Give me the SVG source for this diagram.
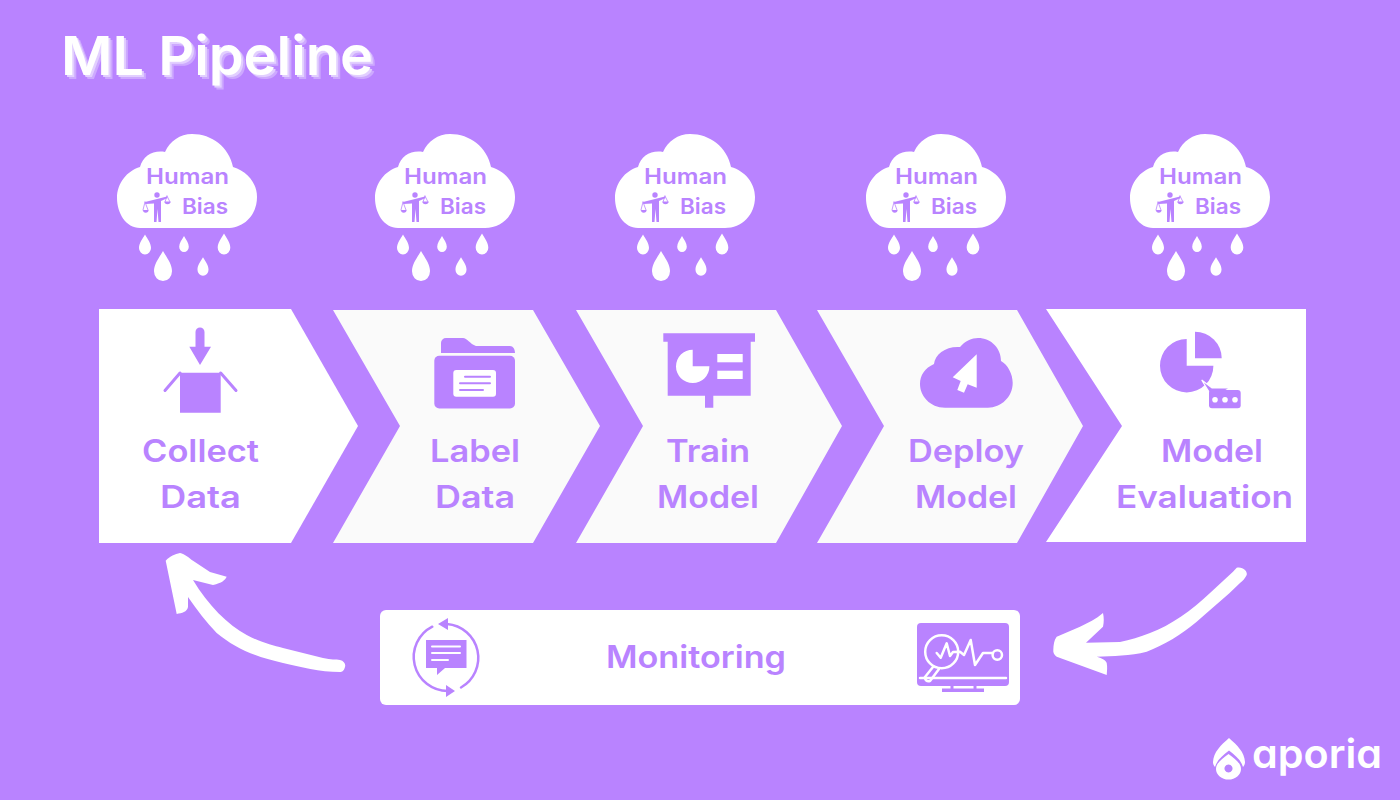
<svg xmlns="http://www.w3.org/2000/svg" width="1400" height="800" viewBox="0 0 1400 800">
<style>
.t{font-family:"Inter","Noto Sans","Liberation Sans",sans-serif;font-weight:600;fill:#b983ff;font-size:31px}
.s{font-size:21px;font-weight:600}
.i{fill:#b983ff}
.w{fill:#fff}
.lw{stroke:#fff;fill:none;stroke-width:2.500;stroke-linecap:round;stroke-linejoin:round}
.lp{stroke:#b983ff;fill:none;stroke-width:2;stroke-linecap:round}
</style>
<defs>
<filter id="sh" x="-5%" y="-20%" width="115%" height="150%">
<feOffset in="SourceAlpha" dx="2" dy="2" result="a"/>
<feFlood flood-color="#e2cfff"/><feComposite in2="a" operator="in" result="b"/>
<feOffset in="SourceAlpha" dx="4" dy="4" result="c"/>
<feFlood flood-color="#cda9ff"/><feComposite in2="c" operator="in" result="d"/>
<feMerge><feMergeNode in="d"/><feMergeNode in="b"/><feMergeNode in="SourceGraphic"/></feMerge>
</filter>
<path id="drop" d="M0,-10C2.500,-5.500 6,-1.500 6,3.500A6,6.500 0 0 1 -6,3.500C-6,-1.500 -2.500,-5.500 0,-10Z"/>
<g id="rain">
<path class="w" d="M140,228C126,228 117,213 117,198C117,183 127,171 140,167C143,156 153,150 165,152C170,141 180,134 192,134C212,134 229,147 233,167C247,171 257,183 257,197C257,215 244,228 227,228Z"/>
<text class="t s" x="146" y="184" textLength="83" lengthAdjust="spacingAndGlyphs">Human</text>
<text class="t s" x="182" y="214" textLength="46" lengthAdjust="spacingAndGlyphs">Bias</text>
<circle class="i" cx="157" cy="195" r="2.700"/>
<path class="i" d="M145,202L167,196.500L167.500,198L161,201V222H158.500L157.500,209L156.500,222H154V203.500L145.500,204Z"/>
<path class="lp" style="stroke-width:.8" d="M145,202L143,210M145,202L148,210M167,196L165,202M167,196L170,202"/>
<path class="i" d="M143,210H148.500A2.700,2.700 0 0 1 143,210ZM164.500,201.500H170.500A3,2.700 0 0 1 164.500,201.500Z"/>
<use href="#drop" class="w" transform="translate(145,244.500)"/>
<use href="#drop" class="w" transform="translate(184,244) scale(.8)"/>
<use href="#drop" class="w" transform="translate(224,244) scale(1.050)"/>
<use href="#drop" class="w" transform="translate(163,266) scale(1.500)"/>
<use href="#drop" class="w" transform="translate(203,266.500) scale(.92)"/>
</g>
</defs>
<rect width="1400" height="800" fill="#b983ff"/>
<text id="title" x="61" y="75" filter="url(#sh)" style="font-family:Inter,'Noto Sans',sans-serif;font-weight:600;font-size:54px;fill:#fff" textLength="312" lengthAdjust="spacingAndGlyphs">ML Pipeline</text>

<g id="cloud-1"><use href="#rain"/></g>
<g id="cloud-2"><use href="#rain" x="258"/></g>
<g id="cloud-3"><use href="#rain" x="498"/></g>
<g id="cloud-4"><use href="#rain" x="749"/></g>
<g id="cloud-5"><use href="#rain" x="1013"/></g>

<g id="collect-data">
<path fill="#fff" d="M99,309H291L358,426L291,543H99Z"/>
<path class="i" d="M195.500,332a4.500,4.500 0 0 1 9,0V346.700H211L200,365L189.300,346.700H195.500ZM180,372.700H220.700V412.700H180Z"/>
<path d="M180,373L165,390.500M220.700,373L236,390.500" stroke="#b983ff" stroke-width="3" stroke-linecap="round" fill="none"/>
<text class="t" x="142" y="462" textLength="117" lengthAdjust="spacingAndGlyphs">Collect</text>
<text class="t" x="160" y="508" textLength="81" lengthAdjust="spacingAndGlyphs">Data</text>
</g>

<g id="label-data">
<path fill="#fafafa" d="M333,310H533L600,426L533,543H333L400,426Z"/>
<path class="i" d="M441,353V343a5,5 0 0 1 5,-5H463C467,338 470,344 476,346H510C513,346 515,349 515,353Z"/>
<rect class="i" x="434.300" y="355.700" width="80.700" height="52.700" rx="5"/>
<rect class="w" x="453.300" y="370" width="42.700" height="26.700" rx="3"/>
<path class="lp" d="M465,376.700H490M460,383.300H490M460,390H483"/>
<text class="t" x="430" y="462" textLength="90" lengthAdjust="spacingAndGlyphs">Label</text>
<text class="t" x="435" y="508" textLength="80" lengthAdjust="spacingAndGlyphs">Data</text>
</g>

<g id="train-model">
<path fill="#fafafa" d="M576,310H776L842,426L776,543H576L643,426Z"/>
<path class="i" d="M663.300,333.300H755V341.700H750.700V395.700H713.300V407.700H705V395.700H667.700V341.700H663.300Z"/>
<path class="w" d="M692.700,349.700V366.300H709.400A16.700,16.700 0 1 1 692.700,349.700Z"/>
<rect class="w" x="717.300" y="354" width="25.400" height="8.300"/>
<rect class="w" x="717.300" y="370.700" width="25.400" height="8.300"/>
<text class="t" x="666" y="462" textLength="84" lengthAdjust="spacingAndGlyphs">Train</text>
<text class="t" x="657" y="508" textLength="102" lengthAdjust="spacingAndGlyphs">Model</text>
</g>

<g id="deploy-model">
<path fill="#fafafa" d="M817,310H1017L1083,426L1017,543H817L884,426Z"/>
<path class="i" d="M945,407.700C930,407.700 920,396 920,384C920,375 925,368 934,364C935,354 946,346 960,347C965,341 972,338 978,338C991,338 1001,348 1001,361C1008,365 1012.700,374 1012.700,383C1012.700,397 1001,407.700 988,407.700Z"/>
<path class="w" d="M976.700,354.300L952.700,377.300L960.700,381L957.300,390L964,392.700L967.700,384.300L976.700,387.700Z"/>
<text class="t" x="908" y="462" textLength="116" lengthAdjust="spacingAndGlyphs">Deploy</text>
<text class="t" x="915" y="508" textLength="102" lengthAdjust="spacingAndGlyphs">Model</text>
</g>

<g id="model-evaluation">
<path fill="#fff" d="M1046,309H1306V542H1046L1122,426Z"/>
<path class="i" d="M1186.700,339V365.700H1213.400A26.700,26.700 0 1 1 1186.700,339Z"/>
<path class="i" d="M1195,331.700A26.700,26.700 0 0 1 1221.700,358.300H1195Z"/>
<path d="M1201.700,380L1212,388H1230L1209,400V392Z" fill="#b983ff" stroke="#fff" stroke-width="1.200"/>
<rect class="i" x="1209" y="390" width="31.700" height="18.300" rx="3"/>
<circle class="w" cx="1215" cy="399.700" r="2.800"/><circle class="w" cx="1225" cy="399.700" r="2.800"/><circle class="w" cx="1235" cy="399.700" r="2.800"/>
<text class="t" x="1161" y="462" textLength="102" lengthAdjust="spacingAndGlyphs">Model</text>
<text class="t" x="1116" y="508" textLength="177" lengthAdjust="spacingAndGlyphs">Evaluation</text>
</g>

<g id="monitoring">
<rect fill="#fff" x="380" y="610" width="640" height="95" rx="6"/>
<path d="M432.300,626.700A34,34 0 0 0 448,691M461,687.500A34,34 0 0 0 447,624" fill="none" stroke="#b983ff" stroke-width="2.500" stroke-linecap="round"/>
<path class="i" d="M438,624L448,618V630ZM455,691L446,685V697Z"/>
<path class="i" d="M426,640H466.500V668H445L437,675V668H426Z"/>
<path class="lw" style="stroke-width:2" d="M432,646.500H460M432,653H460M432,660H448"/>
<text class="t" x="606" y="668" textLength="180" lengthAdjust="spacingAndGlyphs">Monitoring</text>
<rect class="i" x="917" y="623" width="92" height="63" rx="4"/>
<path class="lw" d="M920,678H1006"/>
<path class="lw" d="M933,667L925,677Q925,682 930,681L939,669"/>
<circle class="lw" cx="941.700" cy="651.700" r="16.500"/>
<path class="lw" d="M936.700,653L940.700,657.700L946.700,643.300L950,656L953,652L960,651.700L964,655L970.700,640L975,665L983,653H993"/>
<circle class="lw" cx="997.300" cy="655" r="4.700"/>
<path class="i" d="M942,688.500H984V692H942Z"/>
<path d="M952,686V689M975,686V689" stroke="#b983ff" stroke-width="3"/>
</g>

<g id="connectors">
<path id="arrow-back" class="w" d="M165.700,560.700C170,556 175,554 180,553C185,554 189,558 193,560.700L210,572L226.700,576.700C225,580 222,583 213,585L193,580C208,605 228,625 246.700,635C262,643 272,645 283,648L323,658C331,660 336,659 340,660C344,661 346,664 345,667C344,671 342,672 340,672C320,672 300,667 283,663C255,657 235,648 216.700,633C206,622 197,610 188,597L188,607C187,612 182,613 176.700,614Z"/>
<path id="arrow-eval" class="w" d="M1236.700,567.700C1240,567 1243,568 1245,570C1247,572 1247,574 1246.700,575C1245,578 1243,581 1240,583C1226,597 1211,609 1196.700,621.700C1181,635 1164,645 1146.700,651.700C1130,656 1113,656 1096.700,656.700C1101,658 1106,660 1106.700,663C1107.500,667 1107,671 1106.700,675L1056.700,656.700C1054,655 1053,652 1053.300,650C1053.500,645 1054,640 1056.700,636.700L1080,626.700C1088,623 1096,619 1103,613C1104,618 1104,622 1103,626.700L1086,642.700L1120,642C1130,640 1140,637 1150,633C1171,625 1191,611 1210,593L1233,571.700Z"/>
</g>

<g id="logo">
<path fill="#fff" d="M1229,738C1237,745 1244.500,752 1245,762C1245,764 1244.500,765 1243,767C1241,760 1235,755 1229,750.500C1223,755 1217,760 1215,767C1213.500,765 1213,764 1213,762C1213.500,752 1221,745 1229,738Z"/>
<path fill="#fff" fill-rule="evenodd" d="M1228.500,754C1235,759 1241,763 1241,769A12.500,10.500 0 0 1 1216,769C1216,763 1222,759 1228.500,754ZM1228.500,764.500a4,4 0 1 0 .01,0Z"/>
<text x="1252" y="768" textLength="130" lengthAdjust="spacingAndGlyphs" style="font-family:Inter,'Noto Sans',sans-serif;font-weight:600;font-size:40px;fill:#fff;font-feature-settings:'cv11'">aporia</text>
</g>
</svg>
